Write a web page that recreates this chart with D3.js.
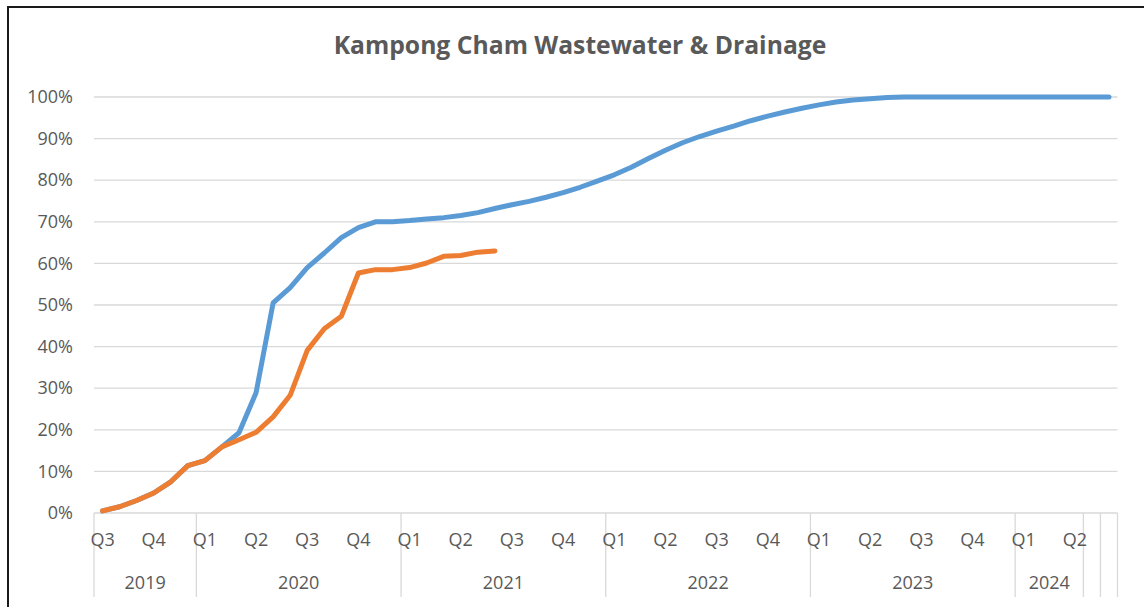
<!DOCTYPE html>
<html>
<head>
<meta charset="utf-8">
<script src="https://cdn.jsdelivr.net/npm/d3@7"></script>
<style>
  html, body { margin: 0; padding: 0; background: #fff; }
  svg { display: block; }
  text { font-family: "Open Sans", "Noto Sans", sans-serif; fill: #595959; }
</style>
</head>
<body>
<svg id="chart" width="1144" height="607"></svg>
<script>
// ---- Data ----
const title = "Kampong Cham Wastewater & Drainage";
const years = ["2019", "2020", "2021", "2022", "2023", "2024", "", ""];
const monthsPerYear = [6, 12, 12, 12, 12, 4, 1, 1];
const quarterLabels = ["Q3","Q4","Q1","Q2","Q3","Q4","Q1","Q2","Q3","Q4",
                       "Q1","Q2","Q3","Q4","Q1","Q2","Q3","Q4","Q1","Q2"];
const yTicks = [0, 0.1, 0.2, 0.3, 0.4, 0.5, 0.6, 0.7, 0.8, 0.9, 1.0];

// planned progress (blue), % per month
const planned = [
  0.5, 1.5, 3.0, 4.8, 7.5, 11.4, 12.6, 15.9, 19.3, 28.9,
  50.5, 54.2, 59.0, 62.5, 66.2, 68.6, 70.0, 70.0, 70.3, 70.7,
  71.0, 71.5, 72.2, 73.2, 74.1, 74.9, 75.9, 77.0, 78.3, 79.8,
  81.3, 83.1, 85.2, 87.2, 89.0, 90.5, 91.8, 93.0, 94.3, 95.4,
  96.4, 97.3, 98.1, 98.8, 99.3, 99.6, 99.9, 100, 100, 100,
  100, 100, 100, 100, 100, 100, 100, 100, 100, 100
];
// actual progress (orange), % per month
const actual = [
  0.5, 1.5, 3.0, 4.8, 7.5, 11.4, 12.6, 15.9, 17.6, 19.4,
  23.1, 28.3, 39.1, 44.3, 47.3, 57.7, 58.5, 58.5, 59.0, 60.1,
  61.7, 61.9, 62.7, 63.0
];

(function () {
// ---- Categories (month slots) built from year groups ----
const categories = [];
years.forEach((yv, yi) => {
  for (let m = 0; m < monthsPerYear[yi]; m++) categories.push(yi + "-" + m);
});

// ---- Layout ----
const svg = d3.select("#chart");
const pLeft = 94, pRight = 1117.5, pTop = 97, pBottom = 513;

const x = d3.scaleBand().domain(categories).range([pLeft, pRight]).paddingInner(0).paddingOuter(0);
const y = d3.scaleLinear().domain([0, 1]).range([pBottom, pTop]);
const cx = c => x(c) + x.bandwidth() / 2;

// outer border (chart area frame, cropped at right/bottom)
svg.append("path")
  .attr("d", "M8,620 L8,7 L1150,7")
  .attr("fill", "none").attr("stroke", "#1a1a1a").attr("stroke-width", 2);

// title
const t = svg.append("text")
  .attr("x", 580).attr("y", 54)
  .attr("text-anchor", "middle")
  .style("font-weight", "bold").style("font-size", "24px")
  .text(title);
const L = t.node().getComputedTextLength();
t.style("font-size", (24 * 493 / L) + "px");

// gridlines
svg.append("g").selectAll("line").data(yTicks.filter(d => d > 0)).join("line")
  .attr("x1", pLeft).attr("x2", pRight)
  .attr("y1", d => y(d)).attr("y2", d => y(d))
  .attr("stroke", "#d9d9d9").attr("stroke-width", 1.3);

// y axis labels
const yAxis = d3.axisLeft(y).tickValues(yTicks).tickFormat(d3.format(".0%")).tickSize(0).tickPadding(21);
const ga = svg.append("g").attr("transform", `translate(${pLeft},0)`).call(yAxis);
ga.select(".domain").remove();
ga.selectAll("text").style("font-size", "18px").attr("fill", "#595959")
  .style("font-family", '"Open Sans", sans-serif');

// x axis line
svg.append("line").attr("x1", pLeft).attr("x2", pRight)
  .attr("y1", pBottom).attr("y2", pBottom)
  .attr("stroke", "#d9d9d9").attr("stroke-width", 1.3);

// year group boundaries
let acc = 0;
const yearGroups = years.map((yr, yi) => {
  const first = categories[acc];
  const last = categories[acc + monthsPerYear[yi] - 1];
  acc += monthsPerYear[yi];
  return { yr, x0: x(first), x1: x(last) + x.bandwidth() };
});
const bx = [yearGroups[0].x0, ...yearGroups.map(g => g.x1)];
svg.append("g").selectAll("line").data(bx).join("line")
  .attr("x1", d => d).attr("x2", d => d)
  .attr("y1", pBottom).attr("y2", 597)
  .attr("stroke", "#d9d9d9").attr("stroke-width", 1.3);

// quarter labels
svg.append("g").selectAll("text").data(quarterLabels).join("text")
  .attr("x", (d, i) => cx(categories[i * 3]))
  .attr("y", 540).attr("dy", "0.35em")
  .attr("text-anchor", "middle").style("font-size", "18px")
  .text(d => d);

// year labels
svg.append("g").selectAll("text").data(yearGroups.filter(g => g.yr)).join("text")
  .attr("x", g => (g.x0 + g.x1) / 2)
  .attr("y", 583).attr("dy", "0.35em")
  .attr("text-anchor", "middle").style("font-size", "18px")
  .text(g => g.yr);

// lines
const line = d3.line().x((d, i) => cx(categories[i])).y(d => y(d / 100));
svg.append("path").datum(planned).attr("d", line)
  .attr("fill", "none").attr("stroke", "#5B9BD5").attr("stroke-width", 5)
  .attr("stroke-linejoin", "round").attr("stroke-linecap", "round");
svg.append("path").datum(actual).attr("d", line)
  .attr("fill", "none").attr("stroke", "#ED7D31").attr("stroke-width", 5)
  .attr("stroke-linejoin", "round").attr("stroke-linecap", "round");
})();
</script>
</body>
</html>
